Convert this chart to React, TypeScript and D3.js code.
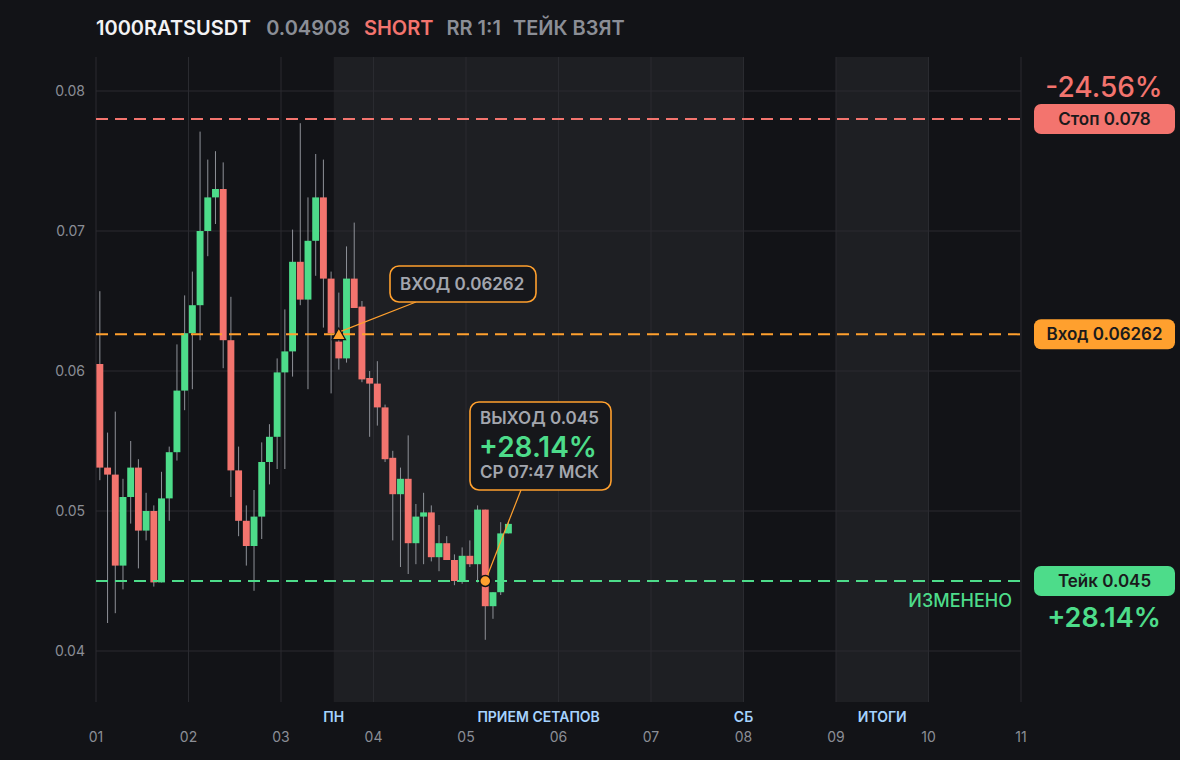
import React from "react";
import * as d3 from "d3";

// header
const symbol = "1000RATSUSDT";
const lastPrice = "0.04908";
const side = "SHORT";
const riskReward = "RR 1:1";
const status = "ТЕЙК ВЗЯТ";

// 2h candles starting at day 01
const opens = [
  0.0605, 0.0531, 0.0526, 0.0461, 0.051, 0.0531, 0.0486, 0.05, 0.0449, 0.0509, 0.0542, 0.0586,
  0.0627, 0.0647, 0.07, 0.0724, 0.073, 0.0622, 0.0529, 0.0493, 0.0475, 0.0496, 0.0535, 0.0553,
  0.0599, 0.0614, 0.0678, 0.0651, 0.0693, 0.0724, 0.0666, 0.0621, 0.0609, 0.0666, 0.0646, 0.0595,
  0.0591, 0.0574, 0.0538, 0.0512, 0.0523, 0.0477, 0.0496, 0.0499, 0.0467, 0.0477, 0.0465, 0.045,
  0.0468, 0.0462, 0.0501, 0.0432, 0.0442, 0.0484,
];
const highs = [
  0.0657, 0.0556, 0.0571, 0.0523, 0.055, 0.0537, 0.0513, 0.0504, 0.0528, 0.0546, 0.0619, 0.0654,
  0.0671, 0.0771, 0.0751, 0.0757, 0.0749, 0.0653, 0.0546, 0.0504, 0.0515, 0.0549, 0.0562, 0.0609,
  0.0644, 0.0701, 0.0777, 0.0724, 0.0755, 0.0751, 0.0671, 0.0656, 0.0689, 0.0706, 0.065, 0.06,
  0.0607, 0.0576, 0.0543, 0.0531, 0.0554, 0.0505, 0.0513, 0.0504, 0.049, 0.0482, 0.0469, 0.0474,
  0.0479, 0.0504, 0.0501, 0.0442, 0.0492, 0.0492,
];
const lows = [
  0.0522, 0.042, 0.0427, 0.0444, 0.0491, 0.0459, 0.0479, 0.0446, 0.0449, 0.0493, 0.0536, 0.0572,
  0.0587, 0.0622, 0.0682, 0.0705, 0.0602, 0.051, 0.0482, 0.0461, 0.0443, 0.048, 0.0519, 0.053,
  0.053, 0.0596, 0.0647, 0.0587, 0.0668, 0.0631, 0.0584, 0.0601, 0.0606, 0.0645, 0.0592, 0.0553,
  0.0561, 0.0535, 0.0479, 0.046, 0.0455, 0.0462, 0.0462, 0.0464, 0.0457, 0.0465, 0.0447, 0.0448,
  0.046, 0.0449, 0.0408, 0.0423, 0.044, 0.0484,
];
const closes = [
  0.0531, 0.0526, 0.0461, 0.051, 0.0531, 0.0486, 0.05, 0.0449, 0.0509, 0.0542, 0.0586, 0.0627,
  0.0647, 0.07, 0.0724, 0.073, 0.0622, 0.0529, 0.0493, 0.0475, 0.0496, 0.0535, 0.0553, 0.0599,
  0.0614, 0.0678, 0.0651, 0.0693, 0.0724, 0.0666, 0.0627, 0.0609, 0.0666, 0.0645, 0.0594, 0.0591,
  0.0574, 0.0537, 0.0512, 0.0523, 0.0477, 0.0496, 0.0499, 0.0467, 0.0477, 0.0465, 0.045, 0.0468,
  0.0462, 0.0501, 0.0432, 0.0442, 0.0484, 0.04908,
];

const dayTicks = ["01", "02", "03", "04", "05", "06", "07", "08", "09", "10", "11"];
const priceTicks = [0.04, 0.05, 0.06, 0.07, 0.08];

const stopPrice = 0.078;
const entryPrice = 0.06262;
const takePrice = 0.045;
const entryCandle = 31;
const exitCandle = 50;
const stopPct = "-24.56%";
const takePct = "+28.14%";
const exitTime = "СР 07:47 МСК";

// shaded sessions, in days
const sessionStarts = [3.57, 9];
const sessionEnds = [8, 10];
const sessionLabels = ["ПН", "ПРИЕМ СЕТАПОВ", "СБ", "ИТОГИ"];
const sessionLabelDays = [3.57, 5.785, 8, 9.5];

const W = 1180;
const H = 760;
const BG = "#121317";
const BAND = "#1e1f23";
const GRID = "#2a2b30";
const RED = "#f3746e";
const GREEN = "#4ddc8a";
const ORANGE = "#ffa02e";
const MUTED = "#8b8e96";
const FONT = "Inter, 'Noto Sans', sans-serif";

const x = d3.scaleLinear().domain([1, 11]).range([96, 1021]);
const y = d3.scaleLinear().domain([0.04, 0.08]).range([651, 91]);
const step = 1 / 12;
const plotTop = 57;
const plotBottom = 702;

const App = () => {
  const candles = opens.map((o, i) => ({
    o,
    h: highs[i],
    l: lows[i],
    c: closes[i],
    t: 1 + i * step,
  }));
  const bw = x(1 + step) - x(1);
  const cx = (i: number) => x(1 + (i + 0.5) * step);

  const ex = cx(entryCandle);
  const ey = y(entryPrice);
  const xx = cx(exitCandle);
  const xy = y(takePrice);
  const tri = d3.symbol().type(d3.symbolTriangle).size(78)();

  const priceLines = [
    { p: stopPrice, color: RED, label: `Стоп ${stopPrice}` },
    { p: entryPrice, color: ORANGE, label: `Вход ${entryPrice}` },
    { p: takePrice, color: GREEN, label: `Тейк ${takePrice}` },
  ];

  return (
    <div style={{ position: "fixed", left: 0, top: 0, width: W, height: H, background: BG }}>
      <svg width={W} height={H} style={{ display: "block", fontFamily: FONT }}>
        <rect width={W} height={H} fill={BG} />

        {/* header */}
        <text x={96} y={35} fontSize={20} fontWeight={600}>
          <tspan fill="#f2f2f4">{symbol}</tspan>
          <tspan fill={MUTED} dx={16}>{lastPrice}</tspan>
          <tspan fill={RED} dx={14}>{side}</tspan>
          <tspan fill={MUTED} dx={13}>{riskReward}</tspan>
          <tspan fill={MUTED} dx={12}>{status}</tspan>
        </text>

        {/* sessions */}
        {sessionStarts.map((s, i) => (
          <rect
            key={i}
            x={x(s)}
            y={plotTop}
            width={x(sessionEnds[i]) - x(s)}
            height={plotBottom - plotTop}
            fill={BAND}
          />
        ))}

        {/* grid */}
        {dayTicks.map((d, i) => (
          <line key={d} x1={x(i + 1)} x2={x(i + 1)} y1={plotTop} y2={plotBottom} stroke={GRID} />
        ))}
        {priceTicks.map((p) => (
          <g key={p}>
            <line x1={x(1)} x2={x(11)} y1={y(p)} y2={y(p)} stroke={GRID} />
            <text x={85} y={y(p)} dy="0.35em" textAnchor="end" fontSize={14} fill={MUTED}>
              {p.toFixed(2)}
            </text>
          </g>
        ))}

        {/* x axis */}
        {dayTicks.map((d, i) => (
          <text key={d} x={x(i + 1)} y={742} textAnchor="middle" fontSize={14} fill={MUTED}>
            {d}
          </text>
        ))}
        {sessionLabels.map((s, i) => (
          <text
            key={s}
            x={x(sessionLabelDays[i])}
            y={722}
            textAnchor="middle"
            fontSize={14}
            fontWeight={600}
            fill="#a6d3ff"
          >
            {s}
          </text>
        ))}

        {/* candles */}
        {candles.map((d, i) => {
          const up = d.c >= d.o;
          const top = y(Math.max(d.o, d.c));
          const bot = y(Math.min(d.o, d.c));
          return (
            <g key={i}>
              <line
                x1={cx(i)}
                x2={cx(i)}
                y1={y(d.h)}
                y2={y(d.l)}
                stroke="#8e9198"
                strokeWidth={1}
              />
              <rect
                x={x(d.t) + 0.4}
                y={top}
                width={bw - 0.8}
                height={Math.max(bot - top, 1.5)}
                fill={up ? GREEN : RED}
              />
            </g>
          );
        })}

        {/* price lines */}
        {priceLines.map((l) => (
          <line
            key={l.label}
            x1={x(1)}
            x2={x(11)}
            y1={y(l.p)}
            y2={y(l.p)}
            stroke={l.color}
            strokeWidth={2}
            strokeDasharray="12 7"
          />
        ))}
        {priceLines.map((l) => (
          <g key={l.label + "b"}>
            <rect x={1034} y={y(l.p) - 15} width={141} height={30} rx={7} fill={l.color} />
            <text
              x={1104.5}
              y={y(l.p)}
              dy="0.36em"
              textAnchor="middle"
              fontSize={17}
              fontWeight={600}
              fill="#1a1a1c"
            >
              {l.label}
            </text>
          </g>
        ))}
        <text x={1104} y={97} textAnchor="middle" fontSize={28} fontWeight={500} fill={RED}>
          {stopPct}
        </text>
        <text x={1104} y={627} textAnchor="middle" fontSize={27} fontWeight={600} fill={GREEN}>
          {takePct}
        </text>
        <text x={1012} y={607} textAnchor="end" fontSize={18} fontWeight={500} fill={GREEN}>
          ИЗМЕНЕНО
        </text>

        {/* entry callout */}
        <line x1={ex + 2} y1={ey - 3} x2={416} y2={302} stroke={ORANGE} strokeWidth={1.2} />
        <rect x={390} y={266} width={146} height={36} rx={9} fill="#16171b" stroke={ORANGE} strokeWidth={1.6} />
        <text x={400} y={290} fontSize={17} fontWeight={600} fill="#a3a6ae">
          {`ВХОД ${entryPrice}`}
        </text>
        <path
          d={tri ?? ""}
          transform={`translate(${ex},${ey + 1.5})`}
          fill={ORANGE}
          stroke="#121317"
          strokeWidth={1.2}
        />

        {/* exit callout */}
        <line x1={xx} y1={xy} x2={521} y2={490} stroke={ORANGE} strokeWidth={1.2} />
        <rect x={470} y={402} width={141} height={88} rx={9} fill="#16171b" stroke={ORANGE} strokeWidth={1.6} />
        <text x={480} y={424} fontSize={17} fontWeight={600} fill="#a3a6ae">
          {`ВЫХОД ${takePrice}`}
        </text>
        <text x={479} y={457} fontSize={28} fontWeight={600} fill={GREEN}>
          {takePct}
        </text>
        <text x={480} y={478} fontSize={17} fontWeight={600} fill="#a3a6ae">
          {exitTime}
        </text>
        <circle cx={xx} cy={xy} r={5.5} fill={ORANGE} stroke="#121317" strokeWidth={1.5} />
      </svg>
    </div>
  );
};

export default App;
